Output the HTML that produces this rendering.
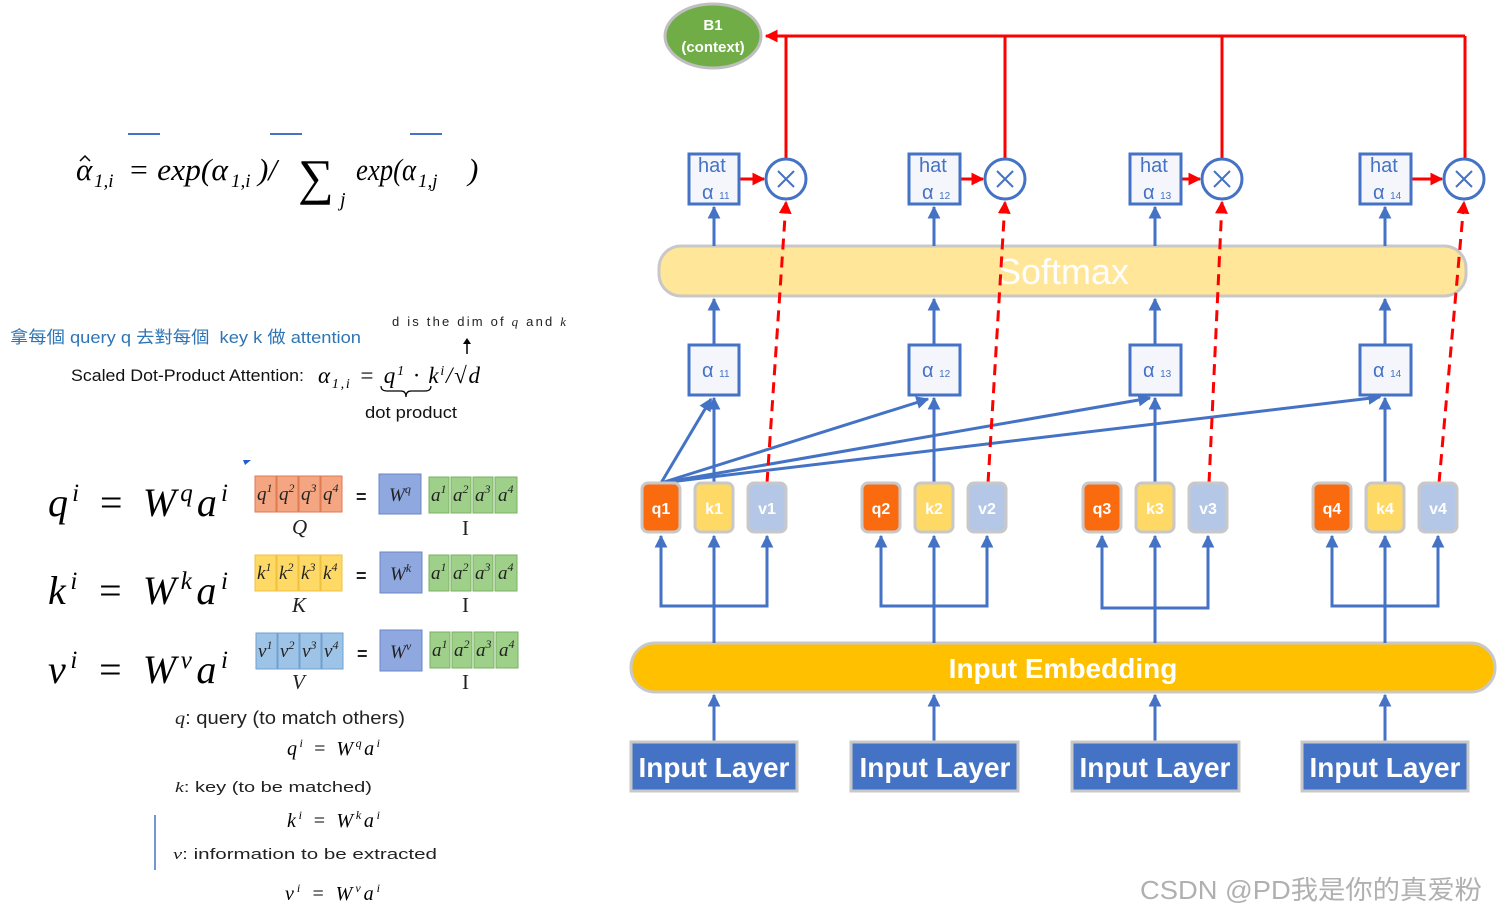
<!DOCTYPE html>
<html><head><meta charset="utf-8">
<style>
html,body{margin:0;padding:0;background:#fff;}
svg{display:block;}
.m{font-family:"Liberation Serif","DejaVu Serif",serif;font-style:italic;}
.s{font-family:"Liberation Sans","Noto Sans CJK TC",sans-serif;}
</style></head><body>
<svg width="1498" height="913" viewBox="0 0 1498 913" xmlns="http://www.w3.org/2000/svg">
<defs>
<marker id="ab" viewBox="0 0 10 10" refX="9" refY="5" markerWidth="4.3" markerHeight="4.3" orient="auto-start-reverse"><path d="M0,0 L10,5 L0,10 z" fill="#4472c4"/></marker>
<marker id="ar" viewBox="0 0 10 10" refX="9" refY="5" markerWidth="4.3" markerHeight="4.3" orient="auto-start-reverse"><path d="M0,0 L10,5 L0,10 z" fill="#ff0000"/></marker>
</defs>

<!-- LEFT SIDE -->
<g stroke="#4472c4" stroke-width="2"><line x1="128" y1="134" x2="160" y2="134"/><line x1="270" y1="134" x2="302" y2="134"/><line x1="410" y1="134" x2="442" y2="134"/></g>
<text class="m" x="76" y="180" font-size="31">α</text>
<path d="M80,161 l5,-5 5,5" fill="none" stroke="#000" stroke-width="1.5"/>
<text class="m" x="94" y="187" font-size="19">1,i</text>
<text class="m" x="128" y="180" font-size="31" textLength="100" lengthAdjust="spacingAndGlyphs">= exp(α</text>
<text class="m" x="231" y="187" font-size="19">1,i</text>
<text class="m" x="258" y="180" font-size="31">)/</text>
<text x="298" y="194" font-size="50" font-family="Liberation Serif,serif">∑</text>
<text class="m" x="340" y="206" font-size="20">j</text>
<text class="m" x="356" y="180" font-size="31" textLength="60" lengthAdjust="spacingAndGlyphs">exp(α</text>
<text class="m" x="418" y="187" font-size="19">1,j</text>
<text class="m" x="468" y="180" font-size="31">)</text>

<text class="s" x="10" y="343" font-size="17" fill="#2e75b6" textLength="351" lengthAdjust="spacingAndGlyphs">拿每個 query q 去對每個&#160; key k 做 attention</text>
<text class="s" x="392" y="326" font-size="13" fill="#222" textLength="174" lengthAdjust="spacing">d is the dim of <tspan class="m">q</tspan> and <tspan class="m">k</tspan></text>
<line x1="467" y1="354" x2="467" y2="342" stroke="#000" stroke-width="1.5"/>
<path d="M463,344 L467,338 L471,344z" fill="#000"/>
<text class="s" x="71" y="381" font-size="17" fill="#111" textLength="233" lengthAdjust="spacingAndGlyphs">Scaled Dot-Product Attention:</text>
<text class="m" x="318" y="383" font-size="23" textLength="162" lengthAdjust="spacing">α<tspan font-size="14" dy="5">1,i</tspan><tspan dy="-5"> = q</tspan><tspan font-size="14" dy="-8">1</tspan><tspan dy="8"> · k</tspan><tspan font-size="14" dy="-8">i</tspan><tspan dy="8">/√d</tspan></text>
<path d="M381,386 q0,5 6,5 h14 q5,0 5,6 q0,-6 5,-6 h14 q6,0 6,-5" fill="none" stroke="#000" stroke-width="1.2"/>
<text class="s" x="365" y="418" font-size="17" fill="#111" textLength="92" lengthAdjust="spacingAndGlyphs">dot product</text>
<path d="M243,460 l8,0 -6,5z" fill="#1f5fd0"/>

<text class="m" x="48" y="516" font-size="40" textLength="180" lengthAdjust="spacing">q<tspan font-size="25" dy="-15">i</tspan><tspan dy="15"> = W</tspan><tspan font-size="25" dy="-15">q</tspan><tspan dy="15">a</tspan><tspan font-size="25" dy="-15">i</tspan></text>
<text class="m" x="48" y="604" font-size="40" textLength="180" lengthAdjust="spacing">k<tspan font-size="25" dy="-15">i</tspan><tspan dy="15"> = W</tspan><tspan font-size="25" dy="-15">k</tspan><tspan dy="15">a</tspan><tspan font-size="25" dy="-15">i</tspan></text>
<text class="m" x="48" y="683" font-size="40" textLength="180" lengthAdjust="spacing">v<tspan font-size="25" dy="-15">i</tspan><tspan dy="15"> = W</tspan><tspan font-size="25" dy="-15">v</tspan><tspan dy="15">a</tspan><tspan font-size="25" dy="-15">i</tspan></text>

<g stroke-width="1">
<g fill="#f4a582" stroke="#e07a50"><rect x="255" y="476" width="21" height="36"/><rect x="277" y="476" width="21" height="36"/><rect x="299" y="476" width="21" height="36"/><rect x="321" y="476" width="21" height="36"/></g>
<g fill="#ffd966" stroke="#f0c040"><rect x="255" y="555" width="21" height="36"/><rect x="277" y="555" width="21" height="36"/><rect x="299" y="555" width="21" height="36"/><rect x="321" y="555" width="21" height="36"/></g>
<g fill="#9dc3e6" stroke="#6fa0d0"><rect x="256" y="633" width="21" height="36"/><rect x="278" y="633" width="21" height="36"/><rect x="300" y="633" width="21" height="36"/><rect x="322" y="633" width="21" height="36"/></g>
<g fill="#8fa8e0" stroke="#6a86c8"><rect x="379" y="474" width="42" height="40"/><rect x="380" y="552" width="42" height="41"/><rect x="380" y="630" width="42" height="41"/></g>
<g fill="#9fd08a" stroke="#78b060"><rect x="429" y="477" width="20" height="36"/><rect x="451" y="477" width="20" height="36"/><rect x="473" y="477" width="20" height="36"/><rect x="495" y="477" width="22" height="36"/>
<rect x="429" y="555" width="20" height="36"/><rect x="451" y="555" width="20" height="36"/><rect x="473" y="555" width="20" height="36"/><rect x="495" y="555" width="22" height="36"/>
<rect x="430" y="632" width="20" height="36"/><rect x="452" y="632" width="20" height="36"/><rect x="474" y="632" width="20" height="36"/><rect x="496" y="632" width="22" height="36"/></g>
</g>
<g class="m" font-size="19" fill="#222">
<text x="257" y="500">q<tspan font-size="12" dy="-8">1</tspan></text><text x="279" y="500">q<tspan font-size="12" dy="-8">2</tspan></text><text x="301" y="500">q<tspan font-size="12" dy="-8">3</tspan></text><text x="323" y="500">q<tspan font-size="12" dy="-8">4</tspan></text>
<text x="257" y="579">k<tspan font-size="12" dy="-8">1</tspan></text><text x="279" y="579">k<tspan font-size="12" dy="-8">2</tspan></text><text x="301" y="579">k<tspan font-size="12" dy="-8">3</tspan></text><text x="323" y="579">k<tspan font-size="12" dy="-8">4</tspan></text>
<text x="258" y="657">v<tspan font-size="12" dy="-8">1</tspan></text><text x="280" y="657">v<tspan font-size="12" dy="-8">2</tspan></text><text x="302" y="657">v<tspan font-size="12" dy="-8">3</tspan></text><text x="324" y="657">v<tspan font-size="12" dy="-8">4</tspan></text>
<text x="389" y="501">W<tspan font-size="12" dy="-8">q</tspan></text>
<text x="390" y="580">W<tspan font-size="12" dy="-8">k</tspan></text>
<text x="390" y="658">W<tspan font-size="12" dy="-8">v</tspan></text>
<text x="431" y="501">a<tspan font-size="12" dy="-8">1</tspan></text><text x="453" y="501">a<tspan font-size="12" dy="-8">2</tspan></text><text x="475" y="501">a<tspan font-size="12" dy="-8">3</tspan></text><text x="498" y="501">a<tspan font-size="12" dy="-8">4</tspan></text>
<text x="431" y="579">a<tspan font-size="12" dy="-8">1</tspan></text><text x="453" y="579">a<tspan font-size="12" dy="-8">2</tspan></text><text x="475" y="579">a<tspan font-size="12" dy="-8">3</tspan></text><text x="498" y="579">a<tspan font-size="12" dy="-8">4</tspan></text>
<text x="432" y="656">a<tspan font-size="12" dy="-8">1</tspan></text><text x="454" y="656">a<tspan font-size="12" dy="-8">2</tspan></text><text x="476" y="656">a<tspan font-size="12" dy="-8">3</tspan></text><text x="499" y="656">a<tspan font-size="12" dy="-8">4</tspan></text>
<text x="292" y="534" font-size="21">Q</text><text x="292" y="612" font-size="21">K</text><text x="292" y="689" font-size="21">V</text>
</g>
<g font-family="Liberation Serif,serif" font-size="21" fill="#222"><text x="462" y="535">I</text><text x="462" y="612">I</text><text x="462" y="689">I</text></g>
<g font-size="18" font-weight="bold" font-family="Liberation Sans,sans-serif" fill="#222"><text x="356" y="503">=</text><text x="356" y="582">=</text><text x="357" y="660">=</text></g>

<text class="s" x="175" y="724" font-size="18" fill="#222" textLength="230" lengthAdjust="spacingAndGlyphs"><tspan class="m">q</tspan>: query (to match others)</text>
<text class="m" x="287" y="755" font-size="20" textLength="93" lengthAdjust="spacing">q<tspan font-size="12" dy="-8">i</tspan><tspan dy="8"> = W</tspan><tspan font-size="12" dy="-8">q</tspan><tspan dy="8">a</tspan><tspan font-size="12" dy="-8">i</tspan></text>
<text class="s" x="175" y="792" font-size="15" fill="#222" textLength="197" lengthAdjust="spacingAndGlyphs"><tspan class="m">k</tspan>: key (to be matched)</text>
<text class="m" x="287" y="827" font-size="20" textLength="93" lengthAdjust="spacing">k<tspan font-size="12" dy="-8">i</tspan><tspan dy="8"> = W</tspan><tspan font-size="12" dy="-8">k</tspan><tspan dy="8">a</tspan><tspan font-size="12" dy="-8">i</tspan></text>
<line x1="155" y1="815" x2="155" y2="870" stroke="#4472c4" stroke-width="1.5"/>
<text class="s" x="173" y="859" font-size="15" fill="#222" textLength="264" lengthAdjust="spacingAndGlyphs"><tspan class="m">v</tspan>: information to be extracted</text>
<text class="m" x="285" y="900" font-size="20" textLength="95" lengthAdjust="spacing">v<tspan font-size="12" dy="-8">i</tspan><tspan dy="8"> = W</tspan><tspan font-size="12" dy="-8">v</tspan><tspan dy="8">a</tspan><tspan font-size="12" dy="-8">i</tspan></text>

<!-- RIGHT DIAGRAM -->
<g stroke="#ff0000" stroke-width="3" fill="none">
<line x1="1465" y1="36" x2="766" y2="36" marker-end="url(#ar)"/>
<line x1="786" y1="36" x2="786" y2="159"/><line x1="1005" y1="36" x2="1005" y2="159"/>
<line x1="1222" y1="36" x2="1222" y2="159"/><line x1="1465" y1="36" x2="1465" y2="159"/>
<line x1="739" y1="179" x2="764" y2="179" marker-end="url(#ar)"/>
<line x1="960" y1="179" x2="983" y2="179" marker-end="url(#ar)"/>
<line x1="1181" y1="179" x2="1200" y2="179" marker-end="url(#ar)"/>
<line x1="1411" y1="179" x2="1442" y2="179" marker-end="url(#ar)"/>
</g>
<ellipse cx="713" cy="36" rx="48" ry="32" fill="#70ad47" stroke="#bfbfbf" stroke-width="3"/>
<text x="713" y="30" font-size="15" font-weight="bold" fill="#fff" text-anchor="middle" class="s">B1</text>
<text x="713" y="52" font-size="15" font-weight="bold" fill="#fff" text-anchor="middle" class="s">(context)</text>

<rect x="659" y="246" width="807" height="50" rx="22" fill="#ffe699" stroke="#c8c8c8" stroke-width="3"/>
<text x="1063" y="284" font-size="36" fill="#fff" text-anchor="middle" class="s">Softmax</text>

<rect x="631" y="643" width="864" height="49" rx="24" fill="#ffc000" stroke="#c8c8c8" stroke-width="3"/>
<text x="1063" y="678" font-size="28" font-weight="bold" fill="#fff" text-anchor="middle" class="s">Input Embedding</text>

<g stroke="#4472c4" stroke-width="3" fill="none">
<line x1="714" y1="742" x2="714" y2="695" marker-end="url(#ab)"/>
<line x1="934" y1="742" x2="934" y2="695" marker-end="url(#ab)"/>
<line x1="1155" y1="742" x2="1155" y2="695" marker-end="url(#ab)"/>
<line x1="1385" y1="742" x2="1385" y2="695" marker-end="url(#ab)"/>
<line x1="714" y1="643" x2="714" y2="536" marker-end="url(#ab)"/>
<polyline points="661,536 661,606 767,606 767,536" marker-start="url(#ab)" marker-end="url(#ab)"/>
<line x1="934" y1="643" x2="934" y2="536" marker-end="url(#ab)"/>
<polyline points="881,536 881,606 987,606 987,536" marker-start="url(#ab)" marker-end="url(#ab)"/>
<line x1="1155" y1="643" x2="1155" y2="536" marker-end="url(#ab)"/>
<polyline points="1102,536 1102,608 1208,608 1208,536" marker-start="url(#ab)" marker-end="url(#ab)"/>
<line x1="1385" y1="643" x2="1385" y2="536" marker-end="url(#ab)"/>
<polyline points="1332,536 1332,606 1438,606 1438,536" marker-start="url(#ab)" marker-end="url(#ab)"/>
<line x1="714" y1="483" x2="714" y2="398" marker-end="url(#ab)"/>
<line x1="934" y1="483" x2="934" y2="398" marker-end="url(#ab)"/>
<line x1="1155" y1="483" x2="1155" y2="398" marker-end="url(#ab)"/>
<line x1="1385" y1="483" x2="1385" y2="398" marker-end="url(#ab)"/>
<line x1="661" y1="483" x2="711" y2="399" marker-end="url(#ab)"/>
<line x1="661" y1="483" x2="928" y2="399" marker-end="url(#ab)"/>
<line x1="661" y1="483" x2="1150" y2="398" marker-end="url(#ab)"/>
<line x1="661" y1="483" x2="1380" y2="397" marker-end="url(#ab)"/>
<line x1="714" y1="345" x2="714" y2="299" marker-end="url(#ab)"/>
<line x1="934" y1="345" x2="934" y2="299" marker-end="url(#ab)"/>
<line x1="1155" y1="345" x2="1155" y2="299" marker-end="url(#ab)"/>
<line x1="1385" y1="345" x2="1385" y2="299" marker-end="url(#ab)"/>
<line x1="714" y1="246" x2="714" y2="207" marker-end="url(#ab)"/>
<line x1="934" y1="246" x2="934" y2="207" marker-end="url(#ab)"/>
<line x1="1155" y1="246" x2="1155" y2="207" marker-end="url(#ab)"/>
<line x1="1385" y1="246" x2="1385" y2="207" marker-end="url(#ab)"/>
</g>

<g stroke="#ff0000" stroke-width="3" fill="none" stroke-dasharray="11,7">
<line x1="767" y1="483" x2="786" y2="202" marker-end="url(#ar)"/>
<line x1="988" y1="483" x2="1005" y2="202" marker-end="url(#ar)"/>
<line x1="1209" y1="483" x2="1222" y2="202" marker-end="url(#ar)"/>
<line x1="1439" y1="483" x2="1464" y2="202" marker-end="url(#ar)"/>
</g>

<g fill="#fff" stroke="#4472c4" stroke-width="3">
<circle cx="786" cy="179" r="20"/><circle cx="1005" cy="179" r="20"/><circle cx="1222" cy="179" r="20"/><circle cx="1464" cy="179" r="20"/>
</g>
<g stroke="#4472c4" stroke-width="2">
<path d="M778,171 l16,16 M794,171 l-16,16"/><path d="M997,171 l16,16 M1013,171 l-16,16"/>
<path d="M1214,171 l16,16 M1230,171 l-16,16"/><path d="M1456,171 l16,16 M1472,171 l-16,16"/>
</g>

<g fill="#f4f6fc" stroke="#4472c4" stroke-width="3">
<rect x="689" y="154" width="50" height="50"/><rect x="909" y="154" width="51" height="50"/><rect x="1130" y="154" width="51" height="50"/><rect x="1360" y="154" width="51" height="50"/>
<rect x="689" y="345" width="50" height="50"/><rect x="909" y="345" width="51" height="50"/><rect x="1130" y="345" width="51" height="50"/><rect x="1360" y="345" width="51" height="50"/>
</g>
<g class="s" fill="#4472c4">
<g font-size="20"><text x="698" y="172">hat</text><text x="919" y="172">hat</text><text x="1140" y="172">hat</text><text x="1370" y="172">hat</text></g>
<text x="702" y="199" font-size="20">α <tspan font-size="10">11</tspan></text>
<text x="922" y="199" font-size="20">α <tspan font-size="10">12</tspan></text>
<text x="1143" y="199" font-size="20">α <tspan font-size="10">13</tspan></text>
<text x="1373" y="199" font-size="20">α <tspan font-size="10">14</tspan></text>
<text x="702" y="377" font-size="20">α <tspan font-size="10">11</tspan></text>
<text x="922" y="377" font-size="20">α <tspan font-size="10">12</tspan></text>
<text x="1143" y="377" font-size="20">α <tspan font-size="10">13</tspan></text>
<text x="1373" y="377" font-size="20">α <tspan font-size="10">14</tspan></text>
</g>

<g stroke="#c8c8c8" stroke-width="3">
<rect x="642" y="483" width="38" height="49" rx="6" fill="#fa6a0f"/><rect x="695" y="483" width="38" height="49" rx="6" fill="#ffd966"/><rect x="748" y="483" width="38" height="49" rx="6" fill="#b4c7e7"/>
<rect x="862" y="483" width="38" height="49" rx="6" fill="#fa6a0f"/><rect x="915" y="483" width="38" height="49" rx="6" fill="#ffd966"/><rect x="968" y="483" width="38" height="49" rx="6" fill="#b4c7e7"/>
<rect x="1083" y="483" width="38" height="49" rx="6" fill="#fa6a0f"/><rect x="1136" y="483" width="38" height="49" rx="6" fill="#ffd966"/><rect x="1189" y="483" width="38" height="49" rx="6" fill="#b4c7e7"/>
<rect x="1313" y="483" width="38" height="49" rx="6" fill="#fa6a0f"/><rect x="1366" y="483" width="38" height="49" rx="6" fill="#ffd966"/><rect x="1419" y="483" width="38" height="49" rx="6" fill="#b4c7e7"/>
</g>
<g class="s" font-size="16" font-weight="bold" fill="#fff" text-anchor="middle">
<text x="661" y="514">q1</text><text x="714" y="514">k1</text><text x="767" y="514">v1</text>
<text x="881" y="514">q2</text><text x="934" y="514">k2</text><text x="987" y="514">v2</text>
<text x="1102" y="514">q3</text><text x="1155" y="514">k3</text><text x="1208" y="514">v3</text>
<text x="1332" y="514">q4</text><text x="1385" y="514">k4</text><text x="1438" y="514">v4</text>
</g>

<g fill="#4472c4" stroke="#c8c8c8" stroke-width="3">
<rect x="631" y="742" width="166" height="49"/><rect x="851" y="742" width="167" height="49"/><rect x="1072" y="742" width="167" height="49"/><rect x="1302" y="742" width="166" height="49"/>
</g>
<g class="s" font-size="28" font-weight="bold" fill="#fff" text-anchor="middle">
<text x="714" y="777">Input Layer</text><text x="935" y="777">Input Layer</text><text x="1155" y="777">Input Layer</text><text x="1385" y="777">Input Layer</text>
</g>

<text x="1140" y="899" font-size="26" fill="#b0b0b0" font-family="Liberation Sans,Noto Sans CJK SC,sans-serif" textLength="342" lengthAdjust="spacingAndGlyphs">CSDN @PD我是你的真爱粉</text>
</svg>
</body></html>
